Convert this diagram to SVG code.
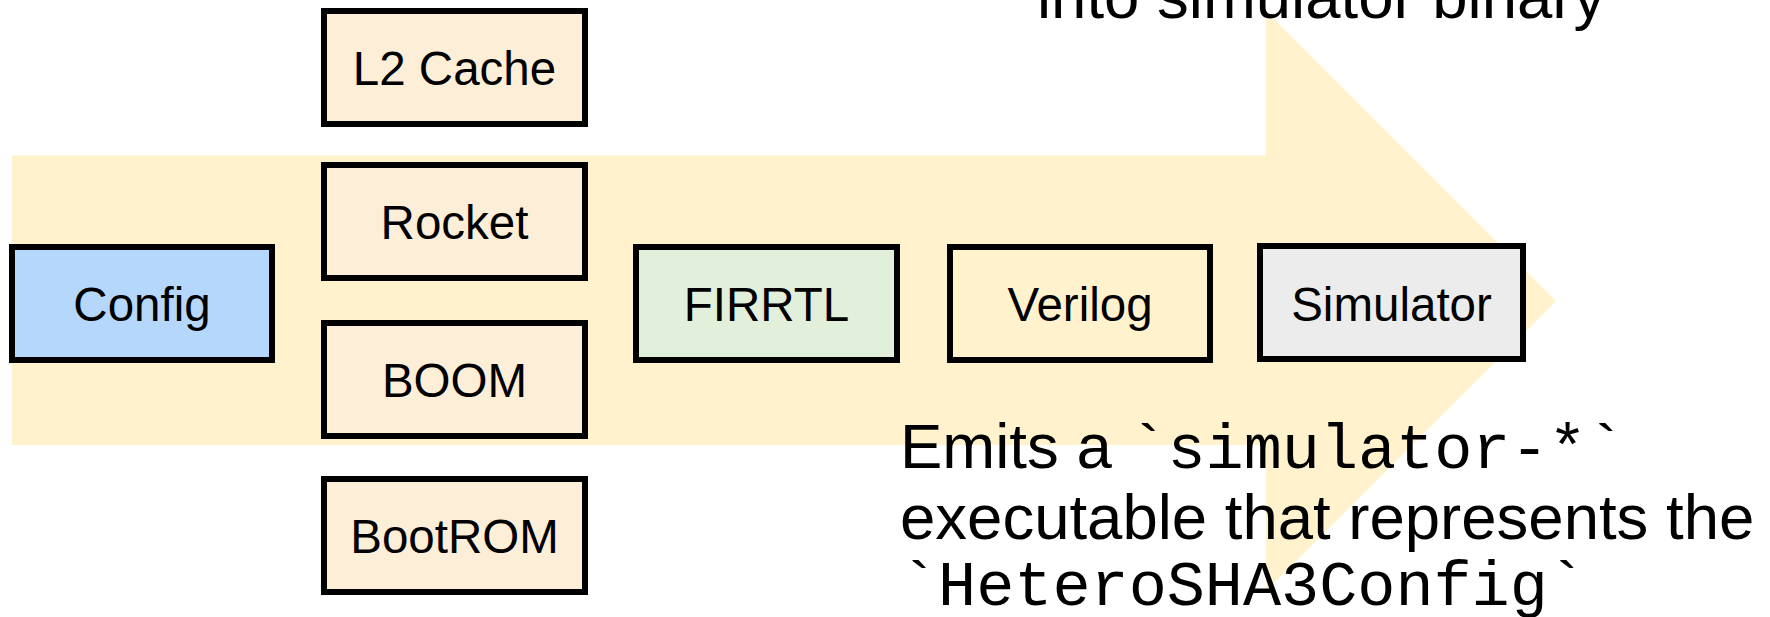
<svg xmlns="http://www.w3.org/2000/svg" width="1770" height="617" viewBox="0 0 1770 617">
  <style>
    .box { stroke: #000000; stroke-width: 6; }
    .label { font-family: "Liberation Sans", Arial, sans-serif; font-size: 47.5px; fill: #000000; text-anchor: middle; }
    .note { font-family: "Liberation Sans", Arial, sans-serif; font-size: 63.5px; fill: #000000; }
    .mono { font-family: "Liberation Mono", "Courier New", monospace; }
    .part { fill: #fdeed8; }
  </style>

  <rect width="1770" height="617" fill="#ffffff"/>

  <!-- broad flow arrow behind the pipeline -->
  <g id="connectors">
    <polygon points="12,155.5 1266,155.5 1266,11 1556,301 1266,591 1266,445 12,445" fill="#fff2cc"/>
  </g>

  <!-- trailing line of the compile note -->
  <text class="note" x="1037" y="17.5">into simulator binary</text>

  <g id="config">
    <rect class="box" x="12" y="247" width="260" height="113" fill="#b4d7fb"/>
    <text class="label" x="142" y="321">Config</text>
  </g>

  <g id="l2-cache">
    <rect class="box part" x="324" y="11" width="261" height="113"/>
    <text class="label" x="454.5" y="85">L2 Cache</text>
  </g>

  <g id="rocket">
    <rect class="box part" x="324" y="165" width="261" height="113"/>
    <text class="label" x="454.5" y="239">Rocket</text>
  </g>

  <g id="boom">
    <rect class="box part" x="324" y="323" width="261" height="113"/>
    <text class="label" x="454.5" y="397">BOOM</text>
  </g>

  <g id="bootrom">
    <rect class="box part" x="324" y="479" width="261" height="113"/>
    <text class="label" x="454.5" y="553">BootROM</text>
  </g>

  <g id="firrtl">
    <rect class="box" x="636" y="247" width="261" height="113" fill="#e2efda"/>
    <text class="label" x="766.5" y="321">FIRRTL</text>
  </g>

  <g id="verilog">
    <rect class="box" x="950" y="247" width="260" height="113" fill="#fff2cc"/>
    <text class="label" x="1080" y="321">Verilog</text>
  </g>

  <g id="simulator">
    <rect class="box" x="1260" y="246" width="263" height="113" fill="#ececec"/>
    <text class="label" x="1391.5" y="321">Simulator</text>
  </g>

  <!-- output description -->
  <text class="note" x="900" y="468">Emits a <tspan class="mono">`simulator-*`</tspan></text>
  <text class="note" x="900" y="539">executable that represents the</text>
  <text class="note mono" x="900" y="605">`HeteroSHA3Config`</text>
</svg>
